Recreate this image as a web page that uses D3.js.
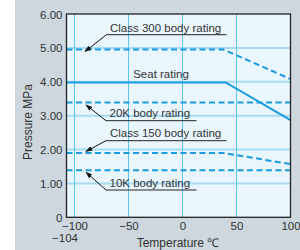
<!DOCTYPE html>
<html><head><meta charset="utf-8">
<script src="https://cdn.jsdelivr.net/npm/d3@7"></script>
<style>html,body{margin:0;padding:0;background:#fff;}svg{display:block;}
text{font-family:"Liberation Sans",Arial,sans-serif;fill:#333;}</style>
</head><body><svg id="c" width="300" height="250"></svg>
<script>
// ---- data ----
const xTicks = [-100, -50, 0, 50, 100];
const xTickLabels = ["\u2212100", "\u221250", "0", "50", "100"];
const xMinLabel = "\u2212104";
const yTicks = [0, 1, 2, 3, 4, 5, 6];
const yTickLabels = ["0", "1.00", "2.00", "3.00", "4.00", "5.00", "6.00"];
const seriesNames = ["Class 300 body rating", "Seat rating", "20K body rating", "Class 150 body rating", "10K body rating"];
const class300T = [-104, 38, 100];  const class300P = [4.95, 4.95, 4.08];
const seatT     = [-104, 40, 100];  const seatP     = [3.98, 3.98, 2.87];
const k20T      = [-104, 100];      const k20P      = [3.39, 3.39];
const class150T = [-104, 38, 100];  const class150P = [1.90, 1.90, 1.57];
const k10T      = [-104, 100];      const k10P      = [1.39, 1.39];

const svg = d3.select("#c");
const L = 66.5, R = 290.5, T = 14, B = 217.3;
const x = d3.scaleLinear().domain([-104, -100, 100]).range([L, 74.5, R]);
const y = d3.scaleLinear().domain([0, 6]).range([B, T]);
const blue = "#1a9be0";

svg.append("rect").attr("x", 15).attr("y", 0).attr("width", 285).attr("height", 250).attr("fill", "#cdd7dd");
svg.append("rect").attr("x", L).attr("y", T).attr("width", R - L).attr("height", B - T).attr("fill", "#eaf6fd");

// grid
svg.append("g").selectAll("line").data(yTicks.slice(1, 6)).join("line")
  .attr("x1", L).attr("x2", R).attr("y1", d => y(d)).attr("y2", d => y(d))
  .attr("stroke", "#a6dcf3").attr("stroke-width", 2);
svg.append("g").selectAll("line").data(xTicks.slice(0, 4)).join("line")
  .attr("x1", d => x(d)).attr("x2", d => x(d)).attr("y1", T).attr("y2", B)
  .attr("stroke", "#5cc6f0").attr("stroke-width", 1);

// series
const line = d3.line().x(d => x(d[0])).y(d => y(d[1]));
const series = [
  {t: class300T, p: class300P, dash: true},
  {t: seatT, p: seatP, dash: false},
  {t: k20T, p: k20P, dash: true},
  {t: class150T, p: class150P, dash: true},
  {t: k10T, p: k10P, dash: true}
];
svg.append("g").selectAll("path").data(series).join("path")
  .attr("d", s => line(s.t.map((t, i) => [t, s.p[i]])))
  .attr("fill", "none").attr("stroke", blue).attr("stroke-width", 2)
  .attr("stroke-dasharray", s => s.dash ? "6,3.5" : null);

// frame
svg.append("rect").attr("x", L).attr("y", T).attr("width", R - L).attr("height", B - T)
  .attr("fill", "none").attr("stroke", "#222").attr("stroke-width", 1.3);

// axes labels
const yAxis = d3.axisLeft(y).tickValues(yTicks).tickFormat((d, i) => yTickLabels[i]).tickSize(0).tickPadding(4);
const ga = svg.append("g").attr("transform", `translate(${L},0)`).call(yAxis);
ga.select(".domain").remove();
ga.selectAll("text").attr("font-size", 11.5).attr("fill", "#333").attr("font-family", "Liberation Sans Narrow, Liberation Sans, Arial").attr("dy", "0.35em");
const xAxis = d3.axisBottom(x).tickValues(xTicks).tickFormat((d, i) => xTickLabels[i]).tickSize(0).tickPadding(5);
const gx = svg.append("g").attr("transform", `translate(0,${B})`).call(xAxis);
gx.select(".domain").remove();
gx.selectAll("text").attr("font-size", 11.5).attr("fill", "#333").attr("font-family", "Liberation Sans Narrow, Liberation Sans, Arial");
svg.append("text").attr("x", x(-104) - 1.5).attr("y", 241.5).attr("text-anchor", "middle")
  .attr("font-size", 11.5).attr("font-family", "Liberation Sans Narrow, Liberation Sans, Arial").text(xMinLabel);

svg.append("text").attr("x", 178).attr("y", 247).attr("text-anchor", "middle").attr("font-size", 12).text("Temperature \u2103");
svg.append("text").attr("transform", "translate(32,122) rotate(-90)").attr("text-anchor", "middle").attr("font-size", 12).text("Pressure  MPa");

// annotations
svg.append("defs").append("marker").attr("id", "ah").attr("viewBox", "0 0 10 10").attr("refX", 9).attr("refY", 5)
  .attr("markerWidth", 7).attr("markerHeight", 7).attr("orient", "auto")
  .append("path").attr("d", "M0,1.5L10,5L0,8.5z").attr("fill", "#111");
const ann = [
  {name: seriesNames[0], tx: 110, ty: 31.5, ux1: 106.5, ux2: 226.5, uy: 34.7, ax: 85, ay: y(class300P[0]) + 2},
  {name: seriesNames[2], tx: 109.5, ty: 117.3, ux1: 106, ux2: 196.5, uy: 120.7, ax: 86, ay: y(k20P[0]) + 2.5},
  {name: seriesNames[3], tx: 110, ty: 137.3, ux1: 106, ux2: 226.5, uy: 140.7, ax: 86, ay: y(class150P[0]) - 1.5},
  {name: seriesNames[4], tx: 109.5, ty: 186.5, ux1: 106, ux2: 196.5, uy: 190, ax: 86, ay: y(k10P[0]) + 2}
];
const ag = svg.append("g");
ann.forEach(a => {
  ag.append("text").attr("x", a.tx).attr("y", a.ty).attr("font-size", 11.5).text(a.name);
  ag.append("line").attr("x1", a.ux1).attr("x2", a.ux2).attr("y1", a.uy).attr("y2", a.uy).attr("stroke", "#222").attr("stroke-width", 1);
  ag.append("line").attr("x1", a.ux1).attr("y1", a.uy).attr("x2", a.ax).attr("y2", a.ay)
    .attr("stroke", "#111").attr("stroke-width", 1).attr("marker-end", "url(#ah)");
});
svg.append("text").attr("x", 161).attr("y", 77.5).attr("text-anchor", "middle").attr("font-size", 11.5).text(seriesNames[1]);
</script></body></html>
